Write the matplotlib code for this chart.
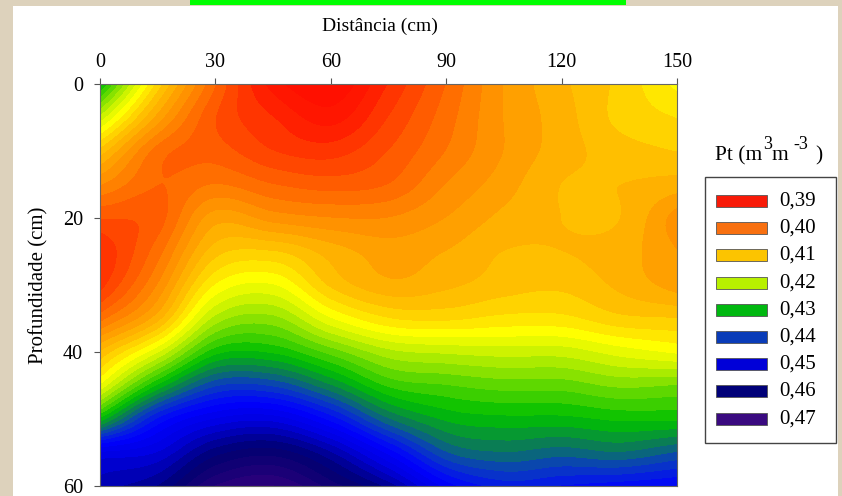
import numpy as np
import matplotlib
matplotlib.use('Agg')
import matplotlib.pyplot as plt
from matplotlib.colors import LinearSegmentedColormap
from matplotlib.patches import Rectangle

plt.rcParams['font.family'] = ['Liberation Serif', 'DejaVu Serif']

distancia = [0, 15, 30, 45, 60, 75, 90, 105, 120, 135, 150]
profundidade = [0, 5, 10, 15, 20, 25, 30, 35, 40, 45, 50, 55, 60]
# one list per distance column, top to bottom
pt_d0 = [.430, .419, .409, .402, .396, .392, .393, .399, .408, .416, .430, .450, .455]
pt_d15 = [.411, .405, .399, .398, .397, .399, .402, .407, .4175, .430, .444, .452, .458]
pt_d30 = [.398, .396, .397, .400, .405, .409, .414, .4205, .4290, .4395, .450, .459, .466]
pt_d45 = [.389, .392, .394, .398, .403, .410, .416, .4225, .4295, .4395, .451, .461, .468]
pt_d60 = [.386, .389, .393, .397, .402, .407, .4095, .4160, .425, .434, .445, .456, .463]
pt_d75 = [.392, .394, .396, .398, .402, .405, .4065, .412, .4205, .4275, .436, .447, .457]
pt_d90 = [.398, .399, .400, .402, .404, .406, .4075, .4115, .4195, .426, .4315, .438, .447]
pt_d105 = [.404, .404, .404, .405, .4065, .408, .409, .4125, .419, .425, .4305, .436, .443]
pt_d120 = [.4075, .407, .407, .408, .408, .408, .4095, .4125, .419, .425, .4305, .437, .444]
pt_d135 = [.4105, .4105, .409, .408, .408, .407, .4075, .4105, .417, .4235, .4295, .436, .445]
pt_d150 = [.4145, .412, .410, .407, .403, .404, .405, .410, .4155, .424, .4295, .438, .446]
pt = np.array([pt_d0, pt_d15, pt_d30, pt_d45, pt_d60, pt_d75, pt_d90, pt_d105,
               pt_d120, pt_d135, pt_d150]).T

legend_labels = ['0,39', '0,40', '0,41', '0,42', '0,43', '0,44', '0,45', '0,46', '0,47']
legend_colors = ['#f81a08', '#f87010', '#fcc400', '#b8f000', '#00b810',
                 '#0a3cb8', '#0000d8', '#000078', '#3a0a80']

# colour ramp between the legend colours
ramp = [(.380, '#ff0000'), (.390, '#ff1800'), (.400, '#ff7a00'), (.410, '#ffc800'),
        (.415, '#ffff00'), (.420, '#c0f000'), (.430, '#00c000'), (.435, '#0a8050'),
        (.440, '#0a3cc0'), (.446, '#0000ff'), (.452, '#0000e0'), (.460, '#000070'),
        (.472, '#400080')]
lo, hi = ramp[0][0], ramp[-1][0]
cmap = LinearSegmentedColormap.from_list('pt', [((v - lo) / (hi - lo), c) for v, c in ramp])


def smooth(a, n=12):
    # Catmull-Rom along axis 0, only so the contours are not angular
    a = np.vstack([2 * a[0] - a[1], a, 2 * a[-1] - a[-2]])
    t = np.arange(0, (len(a) - 3) * n + 1) / n
    i = np.minimum(t.astype(int), len(a) - 4)
    u = (t - i)[:, None]
    p0, p1, p2, p3 = a[i], a[i + 1], a[i + 2], a[i + 3]
    return 0.5 * (2 * p1 + (p2 - p0) * u + (2 * p0 - 5 * p1 + 4 * p2 - p3) * u ** 2
                  + (3 * p1 - p0 - 3 * p2 + p3) * u ** 3)


W, H = 842, 496
fig = plt.figure(figsize=(W / 100, H / 100), dpi=100, facecolor='#ddd2bc')


def px_rect(x0, y0, x1, y1, **kw):
    # rectangle in picture pixels, y from the top
    fig.add_artist(Rectangle((x0 / W, 1 - y1 / H), (x1 - x0) / W, (y1 - y0) / H,
                             transform=fig.transFigure, **kw))


def px_text(x, y, s, **kw):
    fig.text(x / W, 1 - y / H, s, zorder=5, **kw)


px_rect(13, 6, 838, 496, facecolor='white', edgecolor='none', zorder=-1)
px_rect(190, 0, 626, 5, facecolor='#00ff00', edgecolor='none', zorder=-1)

ax = fig.add_axes([100 / W, 1 - 486 / H, 577 / W, 402 / H])
fine = smooth(smooth(pt).T).T
xf = np.linspace(distancia[0], distancia[-1], fine.shape[1])
yf = np.linspace(profundidade[0], profundidade[-1], fine.shape[0])
levels = np.arange(.376, .476, .002)
ax.contourf(xf, yf, fine, levels=levels, cmap=cmap, vmin=lo, vmax=hi, extend='both')

ax.set_xlim(0, 150)
ax.set_ylim(60, 0)
ax.set_xticks([0, 30, 60, 90, 120, 150])
ax.set_yticks([0, 20, 40, 60])
ax.xaxis.tick_top()
ax.xaxis.set_label_position('top')
ax.tick_params(labelsize=14.5, length=4.3, width=0.8, color='#555555')
ax.tick_params(axis='x', pad=4)
ax.tick_params(axis='y', pad=8)
ax.set_xlabel('Distância (cm)', fontsize=14, labelpad=16, x=0.486)
ax.set_ylabel('Profundidade (cm)', fontsize=15, labelpad=10)
for s in ax.spines.values():
    s.set_color('#666666')
    s.set_linewidth(0.8)

# axis title of the legend, superscripts larger than mathtext gives
px_text(715, 160, 'Pt (m', fontsize=15.5, va='baseline')
px_text(763, 149, '3', fontsize=13, va='baseline')
px_text(772, 160, 'm', fontsize=15.5, va='baseline')
px_text(793, 149, '-3', fontsize=13, va='baseline')
px_text(815, 160, ')', fontsize=15.5, va='baseline')

px_rect(705, 177, 836, 443, facecolor='white', edgecolor='#444444', linewidth=1.0, zorder=1)
for i, (lab, col) in enumerate(zip(legend_labels, legend_colors)):
    yc = 201 + 27.2 * i
    px_rect(716, yc - 6, 767, yc + 6, facecolor=col, edgecolor='#555555', linewidth=0.6, zorder=2)
    px_text(779, yc, lab, fontsize=15, va='center')

fig.savefig('out.png', dpi=100, facecolor=fig.get_facecolor())
